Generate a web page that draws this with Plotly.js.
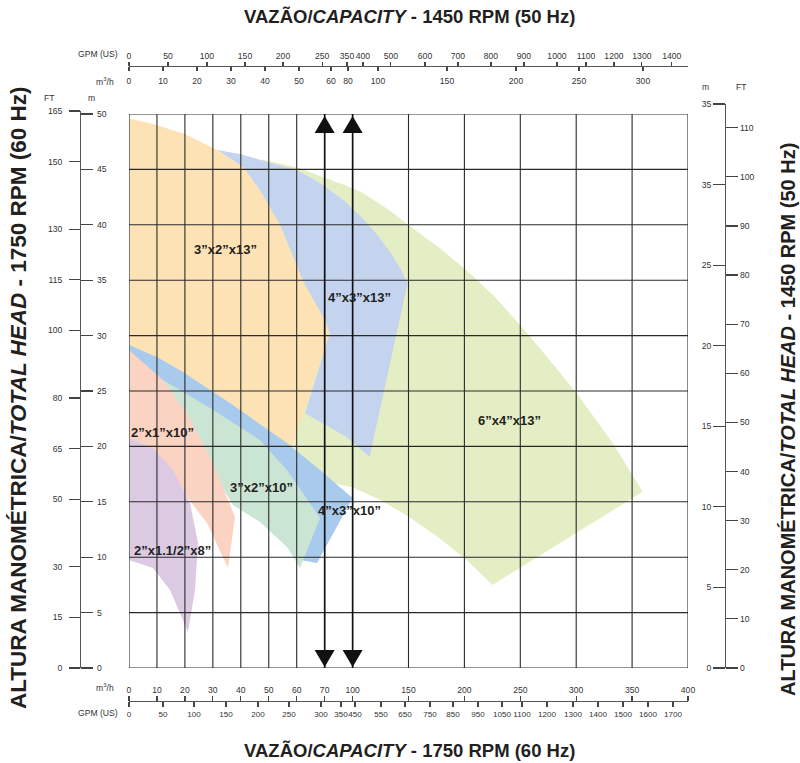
<!DOCTYPE html>
<html><head><meta charset="utf-8">
<script src="https://cdn.plot.ly/plotly-3.0.1.min.js"></script>
<style>html,body{margin:0;padding:0;background:#fff}#chart{width:800px;height:763px}</style>
</head><body><div id="chart"></div>
<script>
// ===== DATA (flow Q in m3/h, head H in m, 60 Hz / 1750 RPM) =====
const pumpNames = ['6”x4”x13”','4”x3”x13”','3”x2”x13”','4”x3”x10”','3”x2”x10”','2”x1”x10”','2”x1.1/2”x8”'];
const pumpColors = ['#E4EEC4','#C4D3EE','#FDE2B6','#A8CAEC','#CBE5D5','#FBD3C2','#DCCAE3'];

const q_6x4x13 = [47.6,61.2,69.4,91.4,108.9,133.1,151.0,177.8,202.0,227.0,249.4,276.2,300.4,332.6,359.4,225.2,202.0,177.8,151.0,124.2,100.0,80.7,68.3,58.7,61.2,54.0,45.1];
const h_6x4x13 = [45.9,45.1,44.3,43.6,42.9,41.3,39.9,37.9,35.9,33.5,31.0,27.8,24.8,20.3,15.9,7.5,9.75,11.7,13.6,15.2,16.3,16.7,17.0,19.9,22.4,33.2,44.9];

const q_4x3x13 = [31.5,39.7,50.45,61.2,69.4,91.4,108.9,122.0,133.1,142.0,149.2,115.2,93.6,69.4,63.0,75.4,70.0,62.25,54.0,46.9,40.8];
const h_4x3x13 = [46.75,46.4,45.6,44.8,43.6,42.15,40.6,39.1,37.6,36.2,34.75,19.04,20.85,22.1,23.0,30.2,31.4,34.9,40.0,43.1,45.2];

const q_3x2x13 = [0,8.59,20.0,31.5,40.8,46.9,54.0,62.25,70.0,75.4,58.7,56.5,36.1,19.3,10.0,0];
const h_3x2x13 = [49.6,49.1,48.2,46.75,45.2,43.1,40.0,34.9,31.4,30.2,20.1,19.86,23.47,26.26,27.62,28.7];

const q_4x3x10 = [0,10.0,19.3,36.1,56.5,68.3,100.0,67.26,61.5,59.0,54.0,46.9,29.0,12.2,0];
const h_4x3x10 = [29.15,28.07,26.71,23.92,20.31,17.87,15.34,9.48,9.75,12.0,16.0,19.3,22.6,25.1,26.5];

const q_3x2x10 = [3.94,12.16,28.98,46.87,56.53,68.34,61.18,56.53,46.87,37.21,25.4,11.09];
const h_3x2x10 = [27.1,26.0,23.47,20.58,17.87,13.54,9.03,10.92,13.18,14.71,19.68,25.1];

const q_2x1x10 = [0,12.16,20.75,30.05,37.92,35.42,27.91,20.75,12.9,3.94,0];
const h_2x1x10 = [28.7,26.0,23.0,18.5,13.63,9.03,13.09,15.43,17.87,19.68,20.13];

const q_2x15x8 = [0,8.59,15.74,21.82,24.69,23.61,21.11,14.67,8.59,0];
const h_2x15x8 = [20.76,19.86,17.87,14.89,11.28,7.04,3.25,7.04,9.03,9.75];

const labelQ = [240.4,106.3,34.35,96.8,47.23,12.16,15.4];
const labelH = [22.38,33.48,37.73,14.26,16.25,21.3,10.65];

const arrowQ = [70,100];

// ===== AXIS TICKS =====
const gridU = [0,1,2,3,4,5,6,7,8,10,12,14,16,18,20];
const m3h60Labels = ['0','10','20','30','40','50','60','70','100','150','200','250','300','350','400'];
const gpm60Labels = ['0','50','100','150','200','250','300','350','450','550','650','750','850','950','1050','1100','1200','1300','1400','1500','1600','1700'];
const gpm60Pos = [0,1.216,2.326,3.470,4.615,5.725,6.869,7.585,8.086,9.016,9.875,10.769,11.592,12.487,13.345,14.061,14.955,15.886,16.780,17.674,18.569,19.463];
const gpm50Labels = ['0','50','100','150','200','250','350','400','500','600','700','800','900','1000','1100','1200','1300','1400'];
const gpm50Pos = [0,1.395,2.79,4.15,5.51,6.91,7.80,8.37,9.37,10.59,11.77,12.95,14.13,15.31,16.35,17.35,18.35,19.42];
const m3h50Labels = ['0','10','20','30','40','50','60','80','100','150','200','250','300'];
const m3h50Pos = [0,1.216,2.433,3.649,4.866,6.082,7.227,7.835,8.909,11.377,13.846,16.100,18.390];
const m60Ticks = [0,5,10,15,20,25,30,35,40,45,50];
const ft60Ticks = [0,15,30,50,65,80,100,115,130,150,165];
const m50Vals = [0,5,10,15,20,25,30,35];
const m50Labels = ['0','5','10','15','20','25','35','35'];
const ft50Ticks = [0,10,20,30,40,50,60,70,80,90,100,110];

// piecewise flow scale of the chart (0-70 linear, 70-100 compressed, 100-400 linear)
function toU(q){ if(q<=70) return q/10; if(q<=100) return 7+(q-70)/30; return 8+(q-100)/25; }

const FONT = '"Liberation Sans", Arial, Helvetica, sans-serif';
const W=800, Hh=763;
const fx = p => p/W, fy = p => 1 - p/Hh;
const xDom=[fx(129), fx(688)], yDom=[fy(668), fy(114)];

const polys = [[q_6x4x13,h_6x4x13],[q_4x3x13,h_4x3x13],[q_3x2x13,h_3x2x13],[q_4x3x10,h_4x3x10],[q_3x2x10,h_3x2x10],[q_2x1x10,h_2x1x10],[q_2x15x8,h_2x15x8]];
const traces = polys.map((p,i)=>({
  type:'scatter', mode:'lines', x:p[0].map(toU), y:p[1], fill:'toself',
  fillcolor:pumpColors[i], line:{width:0,color:pumpColors[i]}, hoverinfo:'skip', showlegend:false, name:pumpNames[i]
}));

// grid lines (from the tick arrays)
const gx=[], gy=[];
gridU.forEach(g=>{gx.push(g,g,null); gy.push(0,50,null);});
m60Ticks.forEach(h=>{gx.push(0,20,null); gy.push(h,h,null);});
traces.push({type:'scatter',mode:'lines',x:gx,y:gy,line:{color:'#2a2a2a',width:1.1},hoverinfo:'skip',showlegend:false,cliponaxis:false});

// arrow lines
const ax=[], ay=[];
arrowQ.forEach(q=>{ax.push(toU(q),toU(q),null); ay.push(0,50,null);});
traces.push({type:'scatter',mode:'lines',x:ax,y:ay,line:{color:'#111',width:1.6},hoverinfo:'skip',showlegend:false,cliponaxis:false});

// dummy traces to activate the extra axes
const dummy = (xa,ya)=>({type:'scatter',mode:'markers',x:[0],y:[0],xaxis:xa,yaxis:ya,marker:{opacity:0,size:1},hoverinfo:'skip',showlegend:false});
traces.push(dummy('x2','y'),dummy('x3','y'),dummy('x4','y'),dummy('x5','y2'),dummy('x5','y3'),dummy('x5','y4'));

const tf = s => ({family:FONT,size:s,color:'#333'});
const axBase = {showgrid:false, zeroline:false, showline:true, linecolor:'#555', linewidth:1.2,
  ticks:'outside', tickcolor:'#444', tickwidth:1.2, tickfont:tf(8.6),
  tickmode:'array', fixedrange:true, tickangle:0};

// triangles (pixel-sized shapes anchored at the arrow flows)
const shapes = [];
arrowQ.forEach(q=>{
  shapes.push({type:'path', xref:'x', yref:'y', xsizemode:'pixel', ysizemode:'pixel', xanchor:toU(q), yanchor:50,
    path:'M-10,-19 L10,-19 L0,-2 Z', fillcolor:'#111', line:{width:0}, layer:'above'});
  shapes.push({type:'path', xref:'x', yref:'y', xsizemode:'pixel', ysizemode:'pixel', xanchor:toU(q), yanchor:0,
    path:'M-10,18 L10,18 L0,1 Z', fillcolor:'#111', line:{width:0}, layer:'above'});
});

const annotations = [];
pumpNames.forEach((n,i)=>{
  annotations.push({xref:'x',yref:'y',x:toU(labelQ[i]),y:labelH[i],text:'<b>'+n+'</b>',showarrow:false,
    font:{family:FONT,size:13,color:'#231f20'}});
});
const small = (t,x,y,xa)=>({xref:'paper',yref:'paper',x:fx(x),y:fy(y),text:t,showarrow:false,xanchor:xa||'center',yanchor:'middle',font:tf(8.6)});
annotations.push(small('GPM (US)',120,54,'right'), small('m<sup>3</sup>/h',116,82,'right'),
  small('m<sup>3</sup>/h',116,687,'right'), small('GPM (US)',120,713,'right'),
  small('FT',49,98), small('m',91,98), small('m',705,87), small('FT',741,87));
const big = (t,x,y,ang,s)=>({xref:'paper',yref:'paper',x:fx(x),y:fy(y),text:'<b>'+t+'</b>',showarrow:false,xanchor:'center',yanchor:'middle',textangle:ang||0,font:{family:FONT,size:s,color:'#231f20'}});
annotations.push(big('VAZÃO/<i>CAPACITY</i> - 1450 RPM (50 Hz)',409,16,0,18.5),
  big('VAZÃO/<i>CAPACITY</i> - 1750 RPM (60 Hz)',409,750,0,18.5),
  big('ALTURA MANOMÉTRICA/<i>TOTAL HEAD</i> - 1750 RPM (60 Hz)',19,398,-90,22.5),
  big('ALTURA MANOMÉTRICA/<i>TOTAL HEAD</i> - 1450 RPM (50 Hz)',788,420,-90,20));

const layout = {
  width:800, height:763, margin:{l:0,r:0,t:0,b:0}, paper_bgcolor:'#fff', plot_bgcolor:'rgba(0,0,0,0)',
  showlegend:false, hovermode:false, font:{family:FONT},
  xaxis:{...axBase, domain:xDom, range:[0,20], anchor:'free', position:fy(701), side:'top', ticklen:5, tickvals:gridU, ticktext:m3h60Labels},
  xaxis2:{...axBase, overlaying:'x', range:[0,20], anchor:'free', position:fy(701), side:'bottom', ticklen:5, tickvals:gpm60Pos, ticktext:gpm60Labels, showline:false, tickfont:tf(8.1)},
  xaxis3:{...axBase, overlaying:'x', range:[0,20], anchor:'free', position:fy(66), side:'top', ticklen:4, tickvals:gpm50Pos, ticktext:gpm50Labels},
  xaxis4:{...axBase, overlaying:'x', range:[0,20], anchor:'free', position:fy(66), side:'bottom', ticklen:4, tickvals:m3h50Pos, ticktext:m3h50Labels, showline:false, ticklabelstandoff:3},
  xaxis5:{domain:xDom, range:[0,20], visible:false, anchor:'free', position:0, fixedrange:true},
  yaxis:{...axBase, domain:yDom, range:[0,50], anchor:'free', position:fx(80), side:'right', ticklen:12, tickvals:m60Ticks, ticktext:m60Ticks.map(String), ticklabelstandoff:2},
  yaxis2:{...axBase, domain:[fy(668),fy(111)], range:[0,165], anchor:'free', position:fx(80), side:'left', ticklen:11, tickvals:ft60Ticks, ticktext:ft60Ticks.map(String), ticklabelstandoff:5},
  yaxis3:{...axBase, domain:[fy(668),fy(104)], range:[0,35], anchor:'free', position:fx(725), side:'left', ticklen:12, tickvals:m50Vals, ticktext:m50Labels},
  yaxis4:{...axBase, domain:[fy(668),fy(104)], range:[0,114.83], anchor:'free', position:fx(725), side:'right', ticklen:12, tickvals:ft50Ticks, ticktext:ft50Ticks.map(String)},
  shapes:shapes, annotations:annotations
};
Plotly.newPlot('chart', traces, layout, {staticPlot:true, displayModeBar:false});
</script></body></html>
